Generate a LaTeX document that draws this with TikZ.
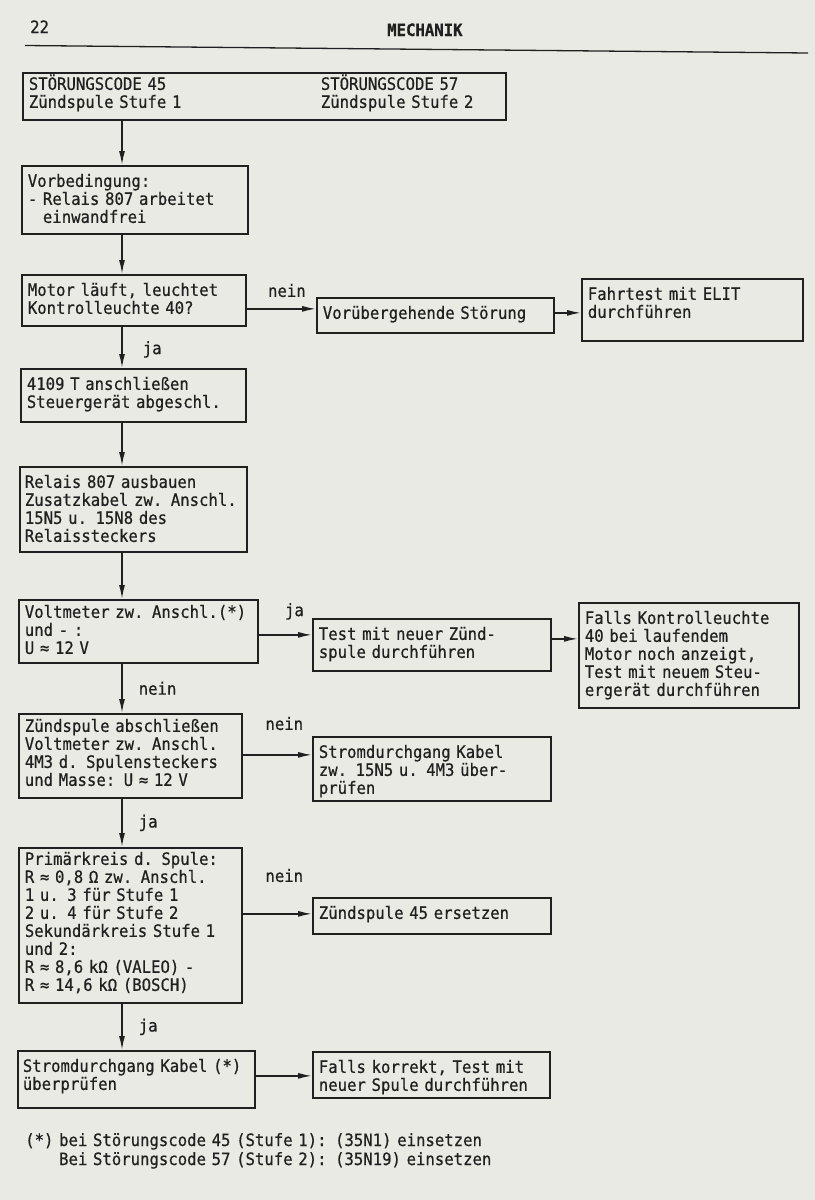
\documentclass[tikz,border=0pt]{standalone}
\usepackage{fontspec}
\usepackage{tikz}
\usetikzlibrary{arrows.meta,positioning}
\newfontfamily\schreib[FakeStretch=0.92,FakeBold=0.6]{DejaVu Sans Mono}
\definecolor{papier}{RGB}{234,234,229}
\definecolor{tinte}{RGB}{32,32,32}

\begin{document}
\begin{tikzpicture}[x=1bp,y=-1bp,
	kasten/.style={draw=tinte,text=tinte,line width=1.7bp,anchor=north west,align=left,
		inner xsep=6bp,inner ysep=10bp,text height=11bp,
		font=\schreib\fontsize{17bp}{18bp}\selectfont},
	pfeil/.style={draw=tinte,line width=1.5bp,-{Latex[length=14bp,width=6bp]}},
	marke/.style={text=tinte,inner sep=0pt,font=\schreib\fontsize{17bp}{19bp}\selectfont}]
	\useasboundingbox (0,0) rectangle (815,1200);
	\fill[papier] (0,0) rectangle (815,1200);
	% Kopfzeile
	\node[marke,anchor=base west] (seite) at (30,33) {22};
	\node[marke,anchor=base west,font=\schreib\bfseries\fontsize{17bp}{18bp}\selectfont] (titel) at (387,36) {MECHANIK};
	\draw[tinte,line width=1.3bp] (25,45.5) -- (808,53);
	%% die Kaesten
	\node[kasten,inner ysep=6bp,text width=471bp,text depth=24bp] (kopf) at (22,72)
		{\makebox[292bp][l]{STÖRUNGSCODE 45}STÖRUNGSCODE 57\\\makebox[292bp][l]{Zündspule Stufe 1}Zündspule Stufe 2};
	\node[kasten,text width=214bp,text depth=37bp] (vorbed) at (21,165)
		{Vorbedingung:\\{}- Relais 807 arbeitet\\\phantom{- }einwandfrei};
	\node[kasten,text width=212bp,text depth=20bp] (motor) at (21,274)
		{Motor läuft, leuchtet\\Kontrolleuchte 40?};
	\node[kasten,text width=225bp,text depth=4bp] (stoerung) at (316,297) {Vorübergehende Störung};
	\node[kasten,text width=209bp,text depth=31bp] (fahrtest) at (581,278)
		{Fahrtest mit ELIT\\durchführen};
	\node[kasten,text width=213bp,text depth=22bp] (anschluss) at (20,368)
		{4109 T anschließen\\Steuergerät abgeschl.};
	\node[kasten,inner xsep=5bp,text width=217bp,text depth=54bp] (relais) at (19,466)
		{Relais 807 ausbauen\\Zusatzkabel zw. Anschl.\\15N5 u. 15N8 des\\Relaissteckers};
	\node[kasten,inner ysep=7bp,text width=227bp,text depth=38bp] (voltmeter) at (18,599)
		{Voltmeter zw. Anschl.(*)\\und - :\\U ≈ 12 V};
	\node[kasten,text width=226bp,text depth=21bp] (neuspule) at (312,618)
		{Test mit neuer Zünd-\\spule durchführen};
	\node[kasten,text width=208bp,text depth=74bp] (steuergeraet) at (578,602)
		{Falls Kontrolleuchte\\40 bei laufendem\\Motor noch anzeigt,\\Test mit neuem Steu-\\ergerät durchführen};
	\node[kasten,inner ysep=7bp,text width=211bp,text depth=59bp] (spule) at (18,713)
		{Zündspule abschließen\\Voltmeter zw. Anschl.\\4M3 d. Spulensteckers\\und Masse: U ≈ 12 V};
	\node[kasten,text width=226bp,text depth=33bp] (kabel) at (312,736)
		{Stromdurchgang Kabel\\zw. 15N5 u. 4M3 über-\\prüfen};
	\node[kasten,inner ysep=6bp,text width=211bp,text depth=132bp] (primaer) at (18,847)
		{Primärkreis d. Spule:\\R ≈ 0,8 Ω zw. Anschl.\\1 u. 3 für Stufe 1\\2 u. 4 für Stufe 2\\Sekundärkreis Stufe 1\\und 2:\\R ≈ 8,6 kΩ (VALEO) -\\R ≈ 14,6 kΩ (BOSCH)};
	\node[kasten,text width=226bp,text depth=5bp] (ersetzen) at (312,897) {Zündspule 45 ersetzen};
	\node[kasten,inner xsep=5bp,text width=227bp,text depth=26bp] (pruefen) at (17,1050)
		{Stromdurchgang Kabel (*)\\überprüfen};
	\node[kasten,text width=225bp,text depth=15bp] (korrekt) at (312,1051)
		{Falls korrekt, Test mit\\neuer Spule durchführen};
	% Fussnote
	\node[marke,anchor=base west,text width=700bp,align=left] (fussnote) at (25,1146)
		{(*) bei Störungscode 45 (Stufe 1): (35N1) einsetzen\\\phantom{(*) }Bei Störungscode 57 (Stufe 2): (35N19) einsetzen};
	%% die Pfeile
	\coordinate (achse) at (122,0);
	\foreach \von/\nach in {kopf/vorbed,vorbed/motor,anschluss/relais,relais/voltmeter}
		\draw[pfeil] (\von.south -| achse) -- (\nach.north -| achse);
	\draw[pfeil] (motor.south -| achse) -- node[marke,right=20bp,pos=0.55]{ja} (anschluss.north -| achse);
	\draw[pfeil] (voltmeter.south -| achse) -- node[marke,right=16bp,pos=0.5]{nein} (spule.north -| achse);
	\draw[pfeil] (spule.south -| achse) -- node[marke,right=16bp,pos=0.5]{ja} (primaer.north -| achse);
	\draw[pfeil] (primaer.south -| achse) -- node[marke,right=16bp,pos=0.5]{ja} (pruefen.north -| achse);
	\draw[pfeil] ([yshift=-8.5bp]motor.east) -- node[marke,above=11bp,pos=0.58]{nein} ([yshift=-8.5bp]motor.east -| stoerung.west);
	\draw[pfeil] ([yshift=2.5bp]stoerung.east) -- ([yshift=2.5bp]stoerung.east -| fahrtest.west);
	\draw[pfeil] ([yshift=-3.5bp]voltmeter.east) -- node[marke,above=14.5bp,pos=0.67]{ja} ([yshift=-3.5bp]voltmeter.east -| neuspule.west);
	\draw[pfeil] ([yshift=6bp]neuspule.east) -- ([yshift=6bp]neuspule.east -| steuergeraet.west);
	\draw[pfeil] ([yshift=1bp]spule.east) -- node[marke,above=24bp,pos=0.6]{nein} ([yshift=1bp]spule.east -| kabel.west);
	\draw[pfeil] ([yshift=11.5bp]primaer.east) -- node[marke,above=31bp,pos=0.6]{nein} ([yshift=11.5bp]primaer.east -| ersetzen.west);
	\draw[pfeil] ([yshift=3.5bp]pruefen.east) -- ([yshift=3.5bp]pruefen.east -| korrekt.west);
\end{tikzpicture}
\end{document}
